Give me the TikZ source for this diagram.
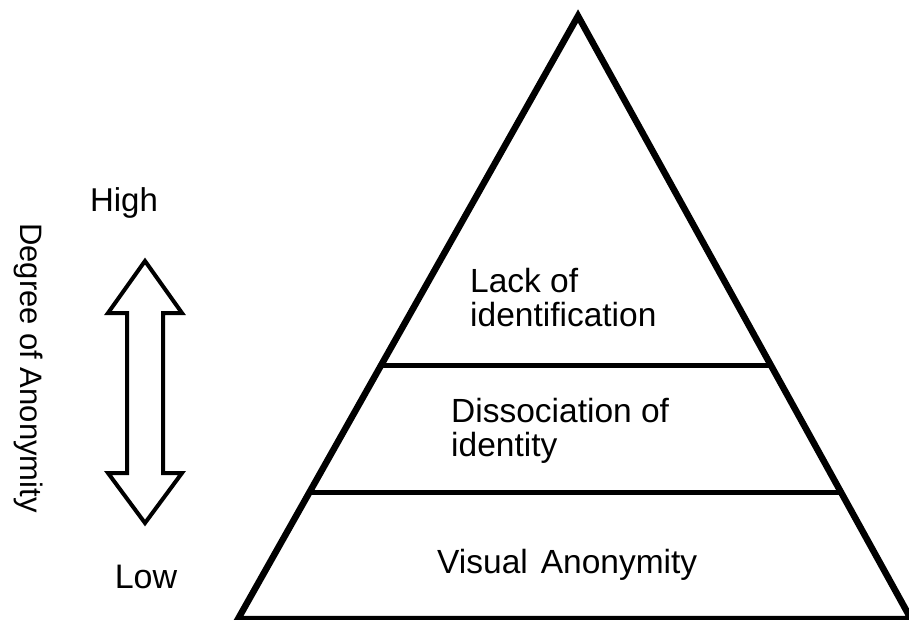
\documentclass[tikz,border=0pt]{standalone}
\usepackage{fontspec}
\setmainfont{Liberation Sans}
\usetikzlibrary{calc}
\begin{document}
\begin{tikzpicture}[x=1pt,y=-1pt,
  side/.style={line width=6.5pt, line join=miter},
  divider/.style={line width=5pt},
  bigarrow/.style={line width=4pt, line join=miter, fill=white},
  lbl/.style={inner sep=0pt, font=\fontsize{33.5}{40}\selectfont, anchor=base west},
  endlbl/.style={inner sep=0pt, font=\fontsize{33}{40}\selectfont, anchor=base}]
\useasboundingbox (0,0) rectangle (909,619);
% pyramid
\coordinate (apex) at (578,16);
\coordinate (bl) at (238,619);
\coordinate (br) at (911,619);
\draw[side] (bl) -- (apex) -- (br) -- cycle;
\coordinate (d1l) at ($(apex)!0.5804!(bl)$);
\coordinate (d1r) at ($(apex)!0.5804!(br)$);
\coordinate (d2l) at ($(apex)!0.7910!(bl)$);
\coordinate (d2r) at ($(apex)!0.7910!(br)$);
\draw[divider] (d1l) -- (d1r);
\draw[divider] (d2l) -- (d2r);
% double block arrow
\coordinate (atop) at (145,261);
\coordinate (abot) at (145,523);
\draw[bigarrow] (atop) -- (182,313) -- (163,313) -- (163,473) -- (182,473)
  -- (abot) -- (108,473) -- (127,473) -- (127,313) -- (108,313) -- cycle;
% labels
\node[endlbl] (high) at (124,211.5) {High};
\node[endlbl, font=\fontsize{34}{40}\selectfont] (low) at (146,588) {Low};
\node[inner sep=0pt, font=\fontsize{31}{40}\selectfont, rotate=-90, anchor=base west] (degree) at (20,223) {Degree of Anonymity};
\node[lbl] (lack1) at (470,292) {Lack of};
\node[lbl] (lack2) at (470,326.5) {identification};
\node[lbl] (diss1) at (451,422) {Dissociation of};
\node[lbl] (diss2) at (451,456) {identity};
\node[lbl] (visual) at (437,573) {Visual\hspace{13pt}Anonymity};
\end{tikzpicture}
\end{document}
